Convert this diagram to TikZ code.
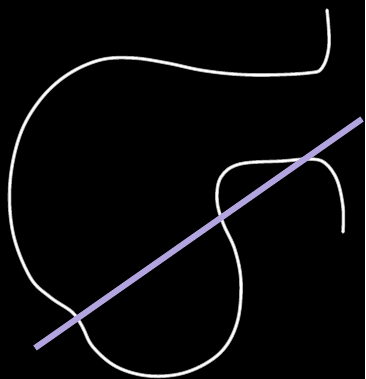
\documentclass[tikz,border=0pt]{standalone}
\begin{document}
\begin{tikzpicture}[x=1pt,y=-1pt,
  curveouter/.style={draw=gray!70, line width=3.6pt, line cap=round, line join=round},
  curveinner/.style={draw=white, line width=2pt, line cap=round, line join=round},
  cutline/.style={draw={rgb,255:red,178;green,164;blue,222}, line width=6pt}]
\fill[black] (0,0) rectangle (365,379);
\useasboundingbox (0,0) rectangle (365,379);
\def\curvepts{(327,10) (329,45) (322,68) (308,73) (267,75) (233,74) (200,70) (167,63) (133,58) (100,60) (67,75) (40,100) (20,135) (10,183) (13,233) (30,277) (50,297) (72,312) (82,326) (93,347) (117,367) (150,376) (187,372) (220,353) (237,323) (241,283) (235,250) (223,223) (217,200) (221,177) (240,164) (283,161) (310,159) (325,163) (337,180) (343,207) (343,232)}
\draw[curveouter] plot[smooth, tension=0.6] coordinates {\curvepts};
\draw[curveinner] plot[smooth, tension=0.6] coordinates {\curvepts};
\coordinate (a) at (35,348);
\coordinate (b) at (362,119);
\draw[cutline] (a) -- (b);
\end{tikzpicture}
\end{document}
